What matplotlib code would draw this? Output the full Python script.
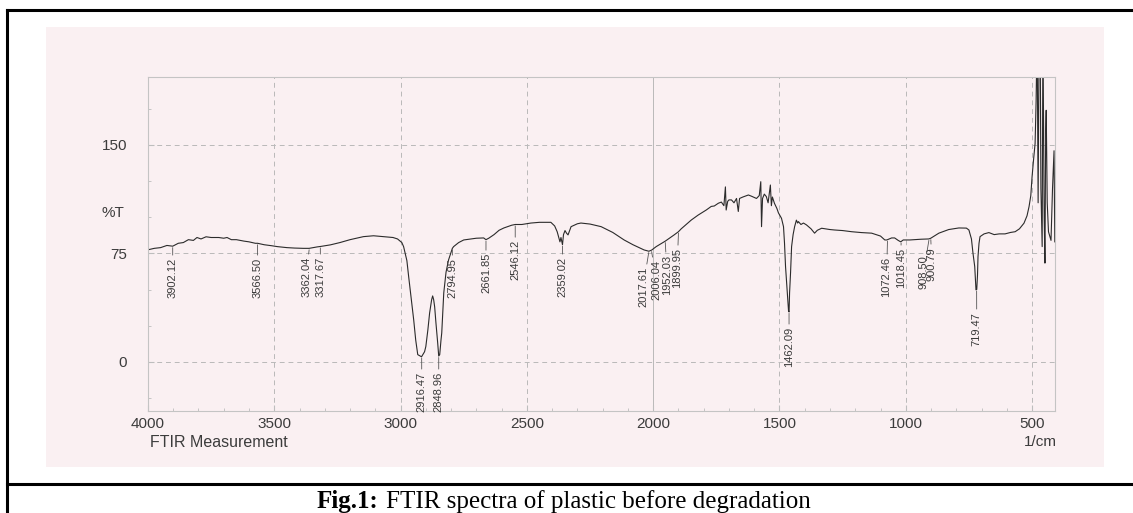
import numpy as np
import matplotlib
matplotlib.use("Agg")
import matplotlib.pyplot as plt
from matplotlib.lines import Line2D
from matplotlib.patches import Rectangle
from matplotlib.ticker import MultipleLocator

# spectrum (wavenumber 1/cm, %T)
wavenumber = [4000, 3975, 3950, 3925, 3902, 3880, 3860, 3840, 3820, 3806, 3790, 3770, 3750,
              3720, 3700, 3687, 3670, 3650, 3620, 3600, 3575, 3566, 3540, 3510, 3488, 3450,
              3420, 3385, 3362, 3330, 3317, 3278, 3240, 3200, 3147, 3107, 3060, 3030, 3012,
              2995, 2988, 2975, 2968, 2958, 2948, 2940, 2932, 2917, 2905, 2900, 2892, 2885,
              2877, 2873, 2869, 2865, 2860, 2853, 2849, 2845, 2840, 2837, 2829, 2820, 2810,
              2795, 2790, 2770, 2750, 2700, 2671, 2662, 2651, 2630, 2610, 2591, 2560, 2546,
              2520, 2484, 2450, 2405, 2390, 2380, 2369, 2365, 2359, 2355, 2349, 2343, 2337,
              2330, 2325, 2300, 2286, 2250, 2206, 2160, 2115, 2080, 2050, 2036, 2020, 2017,
              2006, 1988, 1952, 1917, 1900, 1889, 1849, 1822, 1790, 1770, 1758, 1742, 1730,
              1720, 1714, 1711, 1705, 1700, 1690, 1680, 1670, 1663, 1658, 1645, 1623, 1610,
              1591, 1580, 1574, 1571, 1567, 1560, 1552, 1545, 1536, 1532, 1528, 1520, 1510,
              1504, 1492, 1484, 1480, 1476, 1468, 1464, 1462, 1460, 1456, 1452, 1446, 1440,
              1433, 1428, 1425, 1415, 1405, 1393, 1385, 1375, 1361, 1350, 1333, 1300, 1282,
              1250, 1214, 1175, 1135, 1100, 1083, 1075, 1056, 1044, 1030, 1020, 1010, 984,
              940, 909, 901, 869, 830, 790, 760, 750, 740, 734, 727, 722, 719, 716, 714, 710,
              706, 690, 671, 650, 630, 607, 585, 567, 550, 532, 520, 512, 505, 500, 494, 488,
              484, 480, 476, 472, 468, 465, 460, 457, 452, 449, 446, 444, 440, 435, 425, 419,
              413, 410]
transmittance = [77.5, 78.5, 79.0, 80.5, 80.0, 82.0, 82.5, 84.5, 84.0, 86.0, 85.0, 86.5, 86.0,
                 86.0, 85.5, 86.0, 84.5, 84.5, 83.5, 83.0, 82.0, 82.0, 81.0, 80.3, 79.7, 79.0,
                 78.7, 78.5, 78.5, 79.5, 79.8, 80.9, 82.5, 84.5, 86.6, 87.2, 86.5, 86.0, 85.0,
                 82.5, 79.7, 70.0, 59.0, 44.0, 29.0, 15.0, 5.0, 3.5, 7.0, 10.6, 22.0, 33.8,
                 43.0, 45.6, 43.0, 38.0, 27.0, 13.0, 4.0, 5.0, 15.0, 20.0, 47.7, 62.0, 70.5,
                 78.5, 79.7, 82.5, 84.3, 85.5, 85.7, 84.5, 85.5, 88.0, 91.0, 92.6, 94.5, 95.0,
                 95.0, 96.0, 96.5, 96.5, 94.0, 90.0, 83.0, 86.0, 81.0, 88.0, 90.8, 89.0, 87.8,
                 91.0, 93.5, 95.5, 96.0, 95.3, 93.5, 89.5, 84.3, 81.0, 78.5, 77.4, 76.7, 76.5,
                 77.3, 79.7, 83.5, 87.8, 90.0, 92.0, 98.1, 101.5, 105.0, 107.5, 107.8, 109.7, 110.5,
                 108.0, 121.0, 105.0, 111.0, 112.0, 112.0, 110.0, 113.0, 104.0, 113.0, 114.0, 115.4, 114.5,
                 113.0, 115.0, 124.6, 93.5, 113.0, 116.0, 114.3, 110.0, 122.3, 108.0, 114.0, 109.7, 106.0,
                 103.0, 99.3, 93.5, 82.0, 66.0, 45.0, 35.0, 34.5, 47.7, 62.0, 79.7, 88.0, 93.5,
                 98.0, 96.0, 97.0, 95.0, 96.0, 94.7, 93.5, 92.0, 89.0, 91.0, 92.4, 91.5, 91.2,
                 90.8, 90.0, 89.4, 89.0, 87.0, 84.3, 84.3, 85.7, 85.7, 84.0, 83.0, 84.3, 84.3,
                 84.8, 85.0, 85.5, 89.0, 91.5, 92.6, 92.5, 91.2, 85.0, 75.3, 65.9, 49.8, 50.0, 60.0, 72.8, 82.0,
                 86.6, 88.5, 89.4, 88.0, 88.5, 88.5, 89.5, 90.0, 92.0, 95.9, 101.0, 107.3, 115.0, 128.0, 140.0, 151.0,
                 180.0, 230.0, 110.0, 230.0, 230.0, 120.0, 79.7, 230.0, 100.0, 68.3, 160.0, 174.0, 110.0, 90.0, 84.0, 120.0,
                 146.0, 83.0]

# peak labels, where each rotated label sits (1/cm) and where its text starts (%T)
peak_labels = ["3902.12", "3566.50", "3362.04", "3317.67", "2916.47", "2848.96", "2794.95",
               "2661.85", "2546.12", "2359.02", "2017.61", "2006.04", "1952.03", "1899.95",
               "1462.09", "1072.46", "1018.45", "908.50", "900.79", "719.47"]
peak_text_x = [3902, 3566, 3374, 3317, 2916, 2849, 2795, 2662, 2546, 2359, 2040, 1988,
               1945, 1905, 1462, 1076, 1020, 929, 897, 719]
peak_text_top = [71.9, 71.9, 72.6, 72.6, -6.9, -6.9, 71.9, 75.3, 84.3, 72.6, 65.7, 70.5,
                 74.0, 78.8, 24.2, 72.6, 78.8, 74.0, 79.5, 34.6]

x_ticks = [4000, 3500, 3000, 2500, 2000, 1500, 1000, 500]
y_ticks = [0, 75, 150]

fig = plt.figure(figsize=(11.33, 5.13), dpi=100)
fig.patch.set_facecolor("white")

# scanned page background and table border
fig.patches.append(Rectangle((0.0406, 0.0897), 0.9338, 0.8577, transform=fig.transFigure,
                             facecolor="#faf0f2", edgecolor="none", zorder=-5))
fig.add_artist(Line2D([0.0062, 1.0], [0.9805, 0.9805], color="black", lw=2.2))
fig.add_artist(Line2D([0.0062, 0.0062], [0.0, 0.9805], color="black", lw=2.2))
fig.add_artist(Line2D([0.0062, 1.0], [0.0565, 0.0565], color="black", lw=2.2))

ax = fig.add_axes([0.1306, 0.1988, 0.8006, 0.6511], zorder=2)
ax.set_facecolor("none")
ax.plot(wavenumber, transmittance, color="#2b2b2b", lw=0.8)
ax.set_xlim(4000, 409)
ax.set_ylim(-34, 197)

ax.set_xticks(x_ticks)
ax.set_yticks(y_ticks)
ax.xaxis.set_minor_locator(MultipleLocator(100))
ax.yaxis.set_minor_locator(MultipleLocator(25))
ax.tick_params(axis="both", which="both", direction="in", color="#bdbdbd",
               labelcolor="#3c3c3c", labelsize=11)
ax.tick_params(axis="both", which="major", length=4)
ax.tick_params(axis="both", which="minor", length=2.5)
ax.tick_params(axis="x", pad=4.5)
ax.tick_params(axis="y", pad=15)
for lab in ax.get_xticklabels() + ax.get_yticklabels():
    lab.set_family("Liberation Sans")
for sp in ax.spines.values():
    sp.set_color("#c4c4c4")
    sp.set_linewidth(0.8)

for xv in x_ticks:
    ls = "-" if xv == 2000 else (0, (5, 4))
    ax.axvline(xv, color="#b9b9b9", lw=0.7, ls=ls, zorder=0)
for yv in y_ticks:
    ax.axhline(yv, color="#b9b9b9", lw=0.7, ls=(0, (5, 4)), zorder=0)

ax.text(-0.0507, 103, "%T", transform=ax.get_yaxis_transform(), ha="left", va="center",
        fontsize=11, color="#3c3c3c", family="Liberation Sans")
ax.text(0.002, -0.071, "FTIR Measurement", transform=ax.transAxes, ha="left", va="top",
        fontsize=11.5, color="#3c3c3c", family="Liberation Sans")
ax.text(1.002, -0.073, "1/cm", transform=ax.transAxes, ha="right", va="top",
        fontsize=11, color="#3c3c3c", family="Liberation Sans")

wn_arr = np.array(wavenumber[::-1], dtype=float)
t_arr = np.array(transmittance[::-1], dtype=float)
for lab, xt, ytop in zip(peak_labels, peak_text_x, peak_text_top):
    xv = float(lab)
    ycurve = np.interp(xv, wn_arr, t_arr)
    ax.annotate(lab, xy=(xv, ycurve - 1), xytext=(xt, ytop), textcoords="data",
                rotation=90, ha="center", va="top", fontsize=8, color="#3a3a3a",
                family="Liberation Sans",
                arrowprops=dict(arrowstyle="-", color="#555555", lw=0.6,
                                shrinkA=0, shrinkB=0))

fig.text(0.3336, 0.0097, "Fig.1:", ha="right", va="baseline", fontsize=18,
         family="Liberation Serif", weight="bold")
fig.text(0.3407, 0.0097, "FTIR spectra of plastic before degradation", ha="left",
         va="baseline", fontsize=18, family="Liberation Serif")

fig.savefig("out.png", dpi=100)
